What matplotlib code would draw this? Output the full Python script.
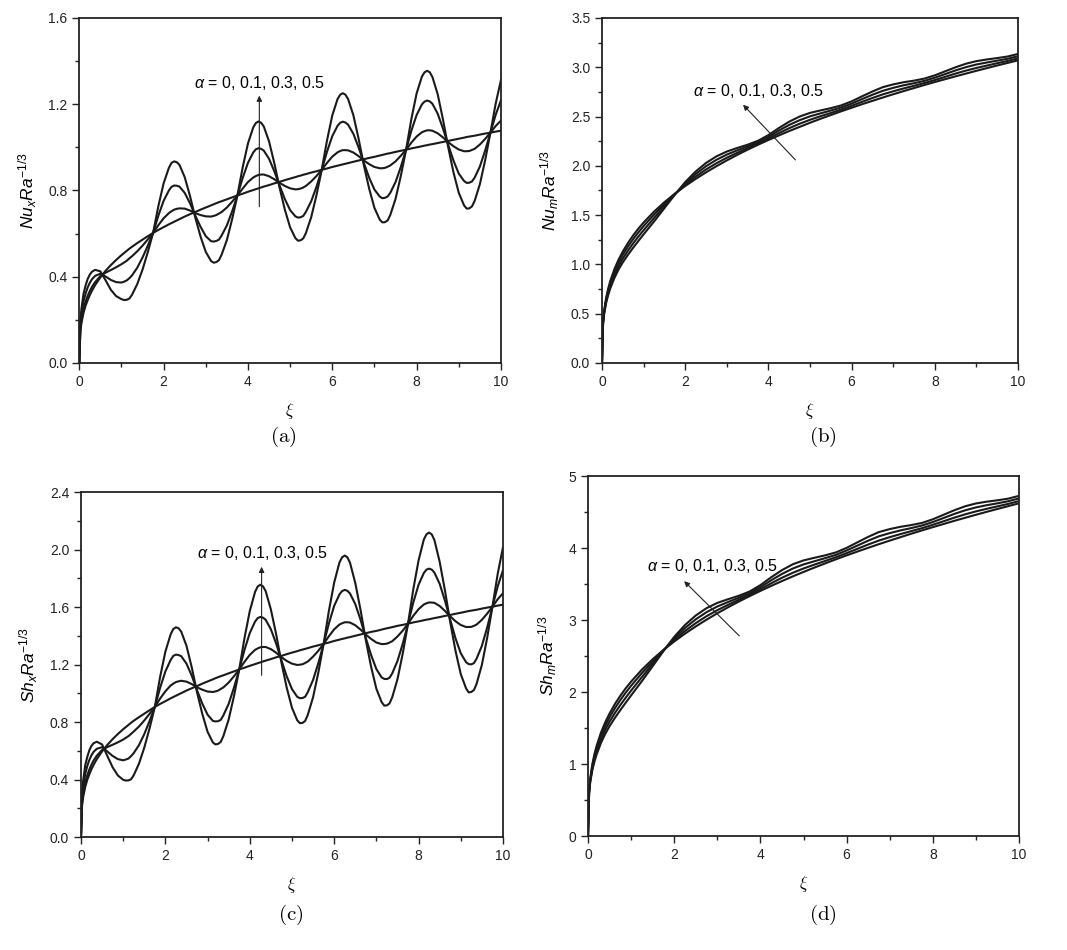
import numpy as np
import matplotlib
matplotlib.use("Agg")
import matplotlib.pyplot as plt
from matplotlib.ticker import MultipleLocator, FormatStrFormatter

plt.rcParams["font.family"] = ["Liberation Sans", "DejaVu Sans"]
plt.rcParams["mathtext.fontset"] = "custom"
plt.rcParams["mathtext.rm"] = "Liberation Sans"
plt.rcParams["mathtext.it"] = "Liberation Sans:italic"

# 局部量 (a)(c) 的取样点
xi_x = np.r_[[0, 0.025, 0.05, 0.1, 0.15, 0.2, 0.25, 0.3], np.arange(0.375, 10.0001, 0.125)]
# 峰谷附近补充的取样点
xi_x_mid = [1.0625, 1.1875, 2.1875, 2.3125, 3.1875, 3.3125, 4.1875, 4.3125, 5.1875,
            5.3125, 6.1875, 6.3125, 7.1875, 7.3125, 8.1875, 8.3125, 9.1875, 9.3125]
# 平均量 (b)(d) 的取样点
xi_m = np.r_[[0, 0.025, 0.05, 0.1, 0.15, 0.2, 0.3, 0.4, 0.5, 0.625, 0.75, 0.875, 1.0],
             np.arange(1.25, 10.0001, 0.25)]

alphas = ["0", "0.1", "0.3", "0.5"]

# (a) Nu_x Ra^-1/3
nux_a0 = [0, 0.146, 0.184, 0.232, 0.266, 0.292, 0.315, 0.335,
          0.361, 0.397, 0.428, 0.454, 0.478, 0.500, 0.520, 0.539,
          0.556, 0.572, 0.588, 0.603, 0.617, 0.630, 0.643, 0.655,
          0.667, 0.679, 0.690, 0.700, 0.711, 0.721, 0.731, 0.741,
          0.750, 0.759, 0.768, 0.777, 0.785, 0.794, 0.802, 0.810,
          0.818, 0.825, 0.833, 0.840, 0.848, 0.855, 0.862, 0.869,
          0.876, 0.883, 0.889, 0.896, 0.902, 0.909, 0.915, 0.921,
          0.927, 0.933, 0.939, 0.945, 0.951, 0.956, 0.962, 0.968,
          0.973, 0.979, 0.984, 0.989, 0.995, 1.000, 1.005, 1.010,
          1.015, 1.020, 1.025, 1.030, 1.035, 1.040, 1.045, 1.050,
          1.054, 1.059, 1.064, 1.068, 1.073, 1.077]
nux_a1 = [0, 0.155, 0.197, 0.250, 0.285, 0.312, 0.334, 0.353,
          0.375, 0.403, 0.419, 0.431, 0.444, 0.458, 0.474, 0.495,
          0.518, 0.544, 0.573, 0.603, 0.639, 0.671, 0.695, 0.711,
          0.717, 0.716, 0.707, 0.695, 0.686, 0.680, 0.679, 0.686,
          0.700, 0.721, 0.748, 0.777, 0.809, 0.839, 0.860, 0.872,
          0.874, 0.866, 0.852, 0.835, 0.821, 0.810, 0.805, 0.809,
          0.821, 0.842, 0.867, 0.896, 0.928, 0.957, 0.977, 0.987,
          0.986, 0.976, 0.959, 0.939, 0.922, 0.909, 0.903, 0.905,
          0.916, 0.935, 0.961, 0.989, 1.022, 1.050, 1.070, 1.079,
          1.077, 1.065, 1.046, 1.024, 1.005, 0.990, 0.982, 0.983,
          0.993, 1.013, 1.039, 1.068, 1.099, 1.124]
nux_a3 = [0, 0.172, 0.224, 0.285, 0.322, 0.351, 0.372, 0.388,
          0.404, 0.414, 0.401, 0.385, 0.375, 0.373, 0.383, 0.406,
          0.442, 0.489, 0.544, 0.603, 0.683, 0.752, 0.800, 0.823,
          0.818, 0.789, 0.741, 0.684, 0.632, 0.588, 0.565, 0.566,
          0.591, 0.638, 0.703, 0.777, 0.858, 0.928, 0.976, 0.996,
          0.985, 0.947, 0.889, 0.823, 0.760, 0.709, 0.680, 0.676,
          0.701, 0.750, 0.817, 0.896, 0.980, 1.052, 1.100, 1.119,
          1.105, 1.063, 0.999, 0.927, 0.859, 0.804, 0.772, 0.766,
          0.789, 0.839, 0.909, 0.989, 1.077, 1.150, 1.199, 1.217,
          1.202, 1.156, 1.087, 1.011, 0.938, 0.878, 0.844, 0.836,
          0.859, 0.911, 0.985, 1.068, 1.151, 1.218]
nux_a5 = [0, 0.190, 0.250, 0.320, 0.360, 0.390, 0.410, 0.423,
          0.432, 0.425, 0.383, 0.339, 0.310, 0.296, 0.293, 0.316,
          0.366, 0.433, 0.514, 0.603, 0.727, 0.833, 0.905, 0.935,
          0.919, 0.862, 0.775, 0.675, 0.587, 0.515, 0.473, 0.468,
          0.502, 0.570, 0.667, 0.777, 0.907, 1.018, 1.092, 1.120,
          1.097, 1.028, 0.927, 0.813, 0.711, 0.629, 0.579, 0.569,
          0.603, 0.676, 0.778, 0.896, 1.032, 1.148, 1.224, 1.251,
          1.224, 1.149, 1.039, 0.916, 0.808, 0.719, 0.665, 0.653,
          0.686, 0.761, 0.867, 0.989, 1.131, 1.250, 1.328, 1.355,
          1.326, 1.246, 1.129, 1.000, 0.883, 0.789, 0.731, 0.717,
          0.751, 0.829, 0.940, 1.068, 1.203, 1.312]
nux_a0_mid = [0.510, 0.530, 0.649, 0.661, 0.736, 0.746, 0.806, 0.814, 0.866,
              0.873, 0.918, 0.924, 0.965, 0.971, 1.008, 1.013, 1.048, 1.052]
nux_a1_mid = [0.466, 0.485, 0.704, 0.715, 0.682, 0.693, 0.867, 0.874, 0.806,
              0.814, 0.983, 0.987, 0.903, 0.910, 1.075, 1.079, 0.982, 0.988]
nux_a3_mid = [0.377, 0.393, 0.817, 0.822, 0.563, 0.572, 0.991, 0.993, 0.674,
              0.682, 1.114, 1.115, 0.764, 0.772, 1.212, 1.213, 0.835, 0.842]
nux_a5_mid = [0.292, 0.299, 0.928, 0.931, 0.465, 0.477, 1.113, 1.114, 0.567,
              0.578, 1.244, 1.244, 0.652, 0.661, 1.348, 1.348, 0.716, 0.726]

# (c) Sh_x Ra^-1/3
shx_a0 = [0, 0.219, 0.276, 0.348, 0.399, 0.438, 0.473, 0.503,
          0.542, 0.596, 0.641, 0.681, 0.717, 0.750, 0.780, 0.809,
          0.834, 0.858, 0.882, 0.905, 0.926, 0.945, 0.965, 0.983,
          1.001, 1.019, 1.035, 1.050, 1.067, 1.082, 1.097, 1.112,
          1.125, 1.139, 1.152, 1.166, 1.178, 1.191, 1.203, 1.215,
          1.227, 1.238, 1.250, 1.260, 1.272, 1.283, 1.293, 1.304,
          1.314, 1.325, 1.334, 1.344, 1.353, 1.364, 1.373, 1.382,
          1.391, 1.400, 1.409, 1.418, 1.427, 1.434, 1.443, 1.452,
          1.460, 1.469, 1.476, 1.484, 1.493, 1.500, 1.508, 1.515,
          1.523, 1.530, 1.538, 1.545, 1.553, 1.560, 1.568, 1.575,
          1.581, 1.589, 1.596, 1.602, 1.610, 1.616]
shx_a1 = [0, 0.234, 0.298, 0.378, 0.431, 0.471, 0.505, 0.533,
          0.566, 0.606, 0.626, 0.642, 0.659, 0.678, 0.702, 0.734,
          0.769, 0.811, 0.857, 0.905, 0.963, 1.014, 1.054, 1.078,
          1.087, 1.081, 1.064, 1.041, 1.025, 1.012, 1.009, 1.019,
          1.041, 1.075, 1.118, 1.166, 1.219, 1.267, 1.302, 1.320,
          1.322, 1.307, 1.282, 1.251, 1.225, 1.206, 1.197, 1.202,
          1.221, 1.255, 1.296, 1.344, 1.397, 1.445, 1.478, 1.494,
          1.492, 1.473, 1.443, 1.408, 1.378, 1.353, 1.342, 1.345,
          1.362, 1.395, 1.436, 1.484, 1.539, 1.585, 1.618, 1.632,
          1.629, 1.607, 1.573, 1.535, 1.501, 1.475, 1.461, 1.462,
          1.478, 1.511, 1.554, 1.602, 1.654, 1.696]
shx_a3 = [0, 0.264, 0.343, 0.438, 0.495, 0.538, 0.570, 0.593,
          0.614, 0.625, 0.595, 0.564, 0.542, 0.534, 0.546, 0.584,
          0.640, 0.716, 0.807, 0.905, 1.038, 1.152, 1.232, 1.269,
          1.258, 1.206, 1.122, 1.021, 0.928, 0.851, 0.808, 0.806,
          0.847, 0.927, 1.039, 1.166, 1.302, 1.419, 1.499, 1.531,
          1.512, 1.445, 1.346, 1.229, 1.118, 1.029, 0.975, 0.967,
          1.008, 1.093, 1.210, 1.344, 1.486, 1.608, 1.688, 1.719,
          1.694, 1.620, 1.511, 1.385, 1.266, 1.168, 1.110, 1.099,
          1.138, 1.225, 1.345, 1.484, 1.632, 1.755, 1.837, 1.867,
          1.840, 1.761, 1.644, 1.511, 1.382, 1.278, 1.216, 1.201,
          1.241, 1.330, 1.457, 1.602, 1.743, 1.856]
shx_a5 = [0, 0.294, 0.388, 0.498, 0.559, 0.605, 0.635, 0.653,
          0.663, 0.644, 0.564, 0.485, 0.428, 0.398, 0.394, 0.430,
          0.511, 0.622, 0.756, 0.905, 1.113, 1.290, 1.410, 1.459,
          1.429, 1.330, 1.180, 1.007, 0.856, 0.732, 0.658, 0.648,
          0.703, 0.818, 0.980, 1.166, 1.385, 1.572, 1.705, 1.755,
          1.712, 1.583, 1.410, 1.214, 1.039, 0.899, 0.812, 0.794,
          0.850, 0.973, 1.145, 1.344, 1.574, 1.770, 1.910, 1.958,
          1.908, 1.767, 1.579, 1.369, 1.184, 1.031, 0.938, 0.916,
          0.972, 1.098, 1.277, 1.484, 1.724, 1.925, 2.070, 2.118,
          2.066, 1.914, 1.715, 1.494, 1.295, 1.133, 1.034, 1.009,
          1.066, 1.198, 1.385, 1.602, 1.831, 2.016]
shx_a0_mid = [0.765, 0.795, 0.974, 0.992, 1.105, 1.119, 1.209, 1.221, 1.299,
              1.309, 1.378, 1.387, 1.448, 1.456, 1.512, 1.519, 1.572, 1.578]
shx_a1_mid = [0.690, 0.718, 1.067, 1.083, 1.013, 1.030, 1.312, 1.322, 1.199,
              1.211, 1.487, 1.494, 1.343, 1.353, 1.626, 1.631, 1.461, 1.469]
shx_a3_mid = [0.539, 0.563, 1.260, 1.266, 0.804, 0.815, 1.523, 1.526, 0.966,
              0.976, 1.711, 1.713, 1.100, 1.108, 1.860, 1.860, 1.203, 1.210]
shx_a5_mid = [0.393, 0.402, 1.447, 1.452, 0.644, 0.662, 1.743, 1.744, 0.792,
              0.808, 1.946, 1.946, 0.914, 0.930, 2.106, 2.105, 1.006, 1.023]

# (b) Nu_m Ra^-1/3
num_a0 = [0, 0.417, 0.525, 0.661, 0.757, 0.833, 0.954, 1.050, 1.131, 1.218, 1.295, 1.363, 1.425,
          1.535, 1.631, 1.717, 1.795, 1.867, 1.934, 1.996, 2.055, 2.111, 2.164, 2.214, 2.262,
          2.308, 2.353, 2.395, 2.437, 2.477, 2.515, 2.553, 2.589, 2.625, 2.659, 2.693, 2.726,
          2.758, 2.789, 2.820, 2.850, 2.879, 2.908, 2.936, 2.964, 2.991, 3.018, 3.044, 3.070]
num_a1 = [0, 0.411, 0.516, 0.646, 0.737, 0.810, 0.927, 1.020, 1.098, 1.182, 1.257, 1.325, 1.389,
          1.505, 1.613, 1.714, 1.807, 1.890, 1.963, 2.026, 2.082, 2.132, 2.179, 2.226, 2.277,
          2.331, 2.382, 2.427, 2.467, 2.503, 2.536, 2.571, 2.609, 2.649, 2.688, 2.725, 2.756,
          2.785, 2.812, 2.840, 2.870, 2.903, 2.936, 2.966, 2.993, 3.017, 3.041, 3.064, 3.090]
num_a3 = [0, 0.404, 0.505, 0.628, 0.715, 0.784, 0.895, 0.985, 1.059, 1.140, 1.214, 1.282, 1.347,
          1.470, 1.592, 1.710, 1.821, 1.916, 1.996, 2.061, 2.114, 2.157, 2.197, 2.240, 2.295,
          2.357, 2.415, 2.463, 2.502, 2.532, 2.561, 2.592, 2.631, 2.677, 2.721, 2.761, 2.791,
          2.817, 2.838, 2.862, 2.894, 2.931, 2.968, 3.001, 3.028, 3.048, 3.067, 3.086, 3.112]
num_a5 = [0, 0.397, 0.495, 0.611, 0.692, 0.758, 0.864, 0.950, 1.021, 1.098, 1.170, 1.238, 1.305,
          1.435, 1.571, 1.707, 1.835, 1.942, 2.029, 2.096, 2.145, 2.181, 2.214, 2.254, 2.312,
          2.383, 2.448, 2.500, 2.537, 2.562, 2.585, 2.613, 2.654, 2.705, 2.754, 2.798, 2.826,
          2.848, 2.864, 2.885, 2.918, 2.959, 3.000, 3.036, 3.062, 3.079, 3.093, 3.109, 3.135]

# (d) Sh_m Ra^-1/3
shm_a0 = [0, 0.627, 0.790, 0.996, 1.140, 1.254, 1.436, 1.580, 1.702, 1.834, 1.949, 2.052, 2.145,
          2.311, 2.455, 2.585, 2.702, 2.811, 2.911, 3.005, 3.094, 3.177, 3.257, 3.332, 3.405,
          3.474, 3.541, 3.606, 3.668, 3.728, 3.786, 3.843, 3.898, 3.951, 4.003, 4.054, 4.103,
          4.151, 4.199, 4.245, 4.290, 4.334, 4.378, 4.420, 4.462, 4.503, 4.543, 4.582, 4.621]
shm_a1 = [0, 0.617, 0.776, 0.972, 1.109, 1.218, 1.393, 1.532, 1.649, 1.776, 1.889, 1.992, 2.087,
          2.263, 2.426, 2.580, 2.721, 2.847, 2.957, 3.053, 3.137, 3.211, 3.281, 3.351, 3.429,
          3.510, 3.587, 3.656, 3.716, 3.769, 3.820, 3.872, 3.929, 3.989, 4.049, 4.104, 4.151,
          4.194, 4.235, 4.276, 4.323, 4.372, 4.422, 4.468, 4.509, 4.545, 4.579, 4.613, 4.652]
shm_a3 = [0, 0.606, 0.759, 0.944, 1.072, 1.176, 1.342, 1.476, 1.588, 1.709, 1.819, 1.922, 2.020,
          2.207, 2.393, 2.575, 2.744, 2.889, 3.010, 3.109, 3.188, 3.250, 3.309, 3.374, 3.457,
          3.552, 3.640, 3.715, 3.772, 3.816, 3.859, 3.905, 3.966, 4.034, 4.102, 4.163, 4.207,
          4.245, 4.277, 4.313, 4.361, 4.417, 4.474, 4.524, 4.564, 4.595, 4.621, 4.650, 4.689]
shm_a5 = [0, 0.595, 0.742, 0.916, 1.036, 1.134, 1.292, 1.420, 1.526, 1.642, 1.749, 1.852, 1.953,
          2.151, 2.359, 2.569, 2.766, 2.931, 3.063, 3.165, 3.238, 3.289, 3.337, 3.396, 3.485,
          3.594, 3.693, 3.774, 3.828, 3.864, 3.898, 3.939, 4.002, 4.079, 4.155, 4.222, 4.263,
          4.295, 4.319, 4.349, 4.399, 4.462, 4.525, 4.580, 4.619, 4.644, 4.663, 4.686, 4.725]


def merged(xs, ys, xm, ym):
    # 把补充点并入主序列, 按 ξ 排序
    x = np.r_[xs, xm]
    y = np.r_[ys, ym]
    o = np.argsort(x, kind="stable")
    return x[o], y[o]


curves_a = [merged(xi_x, y, xi_x_mid, m) for y, m in
            [(nux_a0, nux_a0_mid), (nux_a1, nux_a1_mid), (nux_a3, nux_a3_mid), (nux_a5, nux_a5_mid)]]
curves_c = [merged(xi_x, y, xi_x_mid, m) for y, m in
            [(shx_a0, shx_a0_mid), (shx_a1, shx_a1_mid), (shx_a3, shx_a3_mid), (shx_a5, shx_a5_mid)]]
curves_b = [(xi_m, np.array(y)) for y in [num_a0, num_a1, num_a3, num_a5]]
curves_d = [(xi_m, np.array(y)) for y in [shm_a0, shm_a1, shm_a3, shm_a5]]

label_txt = r"$\alpha$ = " + ", ".join(alphas)

fig = plt.figure(figsize=(10.67, 9.5), dpi=100)

panels = [
    # rect, curves, ylim, ymajor, fmt, ylabel, caption, text pos, arrow (tail, tip), caption pos
    ([0.0743, 0.6179, 0.3952, 0.3632], curves_a,
     1.6, 0.4, "%.1f", r"$Nu_xRa^{-1/3}$", "(a)", (2.72, 1.30), ((4.27, 0.725), (4.27, 1.24)), (0.265, 0.540)),
    ([0.5642, 0.6179, 0.3899, 0.3632], curves_b,
     3.5, 0.5, "%.1f", r"$Nu_mRa^{-1/3}$", "(b)", (2.18, 2.76), ((4.65, 2.06), (3.39, 2.62)), (0.771, 0.540)),
    ([0.0759, 0.1189, 0.3955, 0.3632], curves_c,
     2.4, 0.4, "%.1f", r"$Sh_xRa^{-1/3}$", "(c)", (2.76, 1.975), ((4.28, 1.125), (4.28, 1.88)), (0.272, 0.037)),
    ([0.5511, 0.1200, 0.4039, 0.3789], curves_d,
     5.0, 1.0, "%d", r"$Sh_mRa^{-1/3}$", "(d)", (1.37, 3.75), ((3.51, 2.78), (2.23, 3.54)), (0.771, 0.037)),
]

for rect, curves, ytop, ymaj, fmt, ylab, cap, tpos, arr, cpos in panels:
    ax = fig.add_axes(rect)
    for xs, ys in curves:
        ax.plot(xs, ys, color="#1a1a1a", lw=1.5)
    ax.set_xlim(0, 10)
    ax.set_ylim(0, ytop)
    ax.xaxis.set_major_locator(MultipleLocator(2))
    ax.xaxis.set_minor_locator(MultipleLocator(1))
    ax.yaxis.set_major_locator(MultipleLocator(ymaj))
    ax.yaxis.set_minor_locator(MultipleLocator(ymaj / 2))
    ax.yaxis.set_major_formatter(FormatStrFormatter(fmt))
    ax.tick_params(which="both", direction="out", top=False, right=False, width=1.0,
                   labelsize=10, colors="#222222")
    ax.tick_params(which="major", length=5)
    ax.tick_params(which="minor", length=3)
    for s in ax.spines.values():
        s.set_linewidth(1.3)
        s.set_color("#222222")
    ax.set_xlabel(r"$\xi$", math_fontfamily="cm", fontsize=12, labelpad=9)
    ax.set_ylabel(ylab, fontsize=12.5, labelpad=7)
    ax.text(tpos[0], tpos[1], label_txt, fontsize=11.5, ha="left", va="center")
    ax.annotate("", xy=arr[1], xytext=arr[0],
                arrowprops=dict(arrowstyle="-|>", lw=0.8, color="#222222",
                                mutation_scale=8, shrinkA=0, shrinkB=0))
    fig.text(cpos[0], cpos[1], r"$\mathrm{" + cap + "}$", math_fontfamily="cm",
             fontsize=15, ha="center", va="center")

fig.savefig("out.png", dpi=100)
